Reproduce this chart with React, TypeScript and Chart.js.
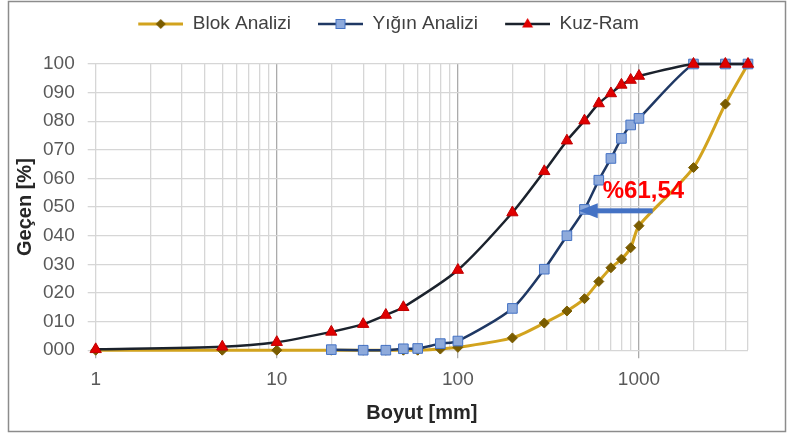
import React, { useEffect, useRef } from 'react';
import { Chart, registerables } from 'chart.js';

Chart.register(...registerables);

const SERIES_NAMES = ['Blok Analizi', 'Yığın Analizi', 'Kuz-Ram'];

const BLOK_X = [1, 5, 10, 20, 30, 40, 50, 60, 80, 100, 200, 300, 400, 500, 600, 700, 800, 900, 1000, 2000, 3000, 4000];
const BLOK_Y = [0, 0, 0, 0, 0, 0, 0, 0, 0.4, 1, 4.3, 9.5, 13.7, 18, 24, 28.8, 31.8, 35.8, 43.5, 63.8, 86, 100];

const YIGIN_X = [20, 30, 40, 50, 60, 80, 100, 200, 300, 400, 500, 600, 700, 800, 900, 1000, 2000, 3000, 4000];
const YIGIN_Y = [0.2, 0, 0, 0.5, 0.6, 2.3, 3.2, 14.6, 28.3, 40, 49.2, 59.4, 67, 74, 78.7, 81, 100, 100, 100];

const KUZ_X = [1, 5, 10, 20, 30, 40, 50, 100, 200, 300, 400, 500, 600, 700, 800, 900, 1000, 2000, 3000, 4000];
const KUZ_Y = [0.3, 1.2, 2.8, 6.4, 9.1, 12.3, 15, 28, 48.1, 62.5, 73.2, 80.2, 86.2, 89.7, 92.7, 94.4, 95.8, 100, 100, 100];

const X_MIN = 1;
const X_MAX = 4000;
const X_LABELED = [1, 10, 100, 1000];
const X_DECADES = [1, 10, 100, 1000];
const X_MULTIPLIERS = [1, 2, 3, 4, 5, 6, 7, 8, 9];
const Y_MIN = 0;
const Y_MAX = 100;
const Y_STEP = 10;

const ANNOTATION_TEXT = '%61,54';
const ARROW_TIP_X = 465;
const ARROW_TAIL_X = 1190;
const ARROW_Y = 48.7;
const LABEL_X = 1058;
const LABEL_Y = 55.4;

const FONT = "'Liberation Sans', Arial, sans-serif";
const TENSION = 0.25;

const COLORS = {
  blokLine: '#D2A31E',
  blokPoint: '#7A5C00',
  yiginLine: '#1F3864',
  yiginPoint: '#8EAADB',
  yiginPointBorder: '#4472C4',
  kuzLine: '#1B222C',
  kuzPoint: '#E00000',
  kuzPointBorder: '#C00000',
  grid: '#d6d6d6',
  gridMajor: '#ababab',
  tick: '#595959',
  title: '#262626',
  legend: '#404040',
  arrow: '#4472C4',
  label: '#FF0000',
  frame: '#8c8c8c',
};

function xGridValues(): number[] {
  const out: number[] = [];
  for (const d of X_DECADES) for (const m of X_MULTIPLIERS) if (d * m <= X_MAX) out.push(d * m);
  return out;
}

function makeSample(kind: number): HTMLCanvasElement {
  const c = document.createElement('canvas');
  c.width = 65;
  c.height = 16;
  const ctx = c.getContext('2d')!;
  const y = 8;
  const cx = 42.5;
  ctx.lineCap = 'butt';
  if (kind === 0) {
    ctx.strokeStyle = COLORS.blokLine;
    ctx.lineWidth = 3;
    ctx.beginPath(); ctx.moveTo(20, y); ctx.lineTo(65, y); ctx.stroke();
    ctx.fillStyle = COLORS.blokPoint;
    ctx.beginPath(); ctx.moveTo(cx, y - 5); ctx.lineTo(cx + 5, y); ctx.lineTo(cx, y + 5); ctx.lineTo(cx - 5, y); ctx.closePath(); ctx.fill();
  } else if (kind === 1) {
    ctx.strokeStyle = COLORS.yiginLine;
    ctx.lineWidth = 2.5;
    ctx.beginPath(); ctx.moveTo(20, y); ctx.lineTo(65, y); ctx.stroke();
    ctx.fillStyle = COLORS.yiginPoint;
    ctx.strokeStyle = COLORS.yiginPointBorder;
    ctx.lineWidth = 1;
    ctx.fillRect(cx - 4.5, y - 4.5, 9, 9);
    ctx.strokeRect(cx - 4.5, y - 4.5, 9, 9);
  } else {
    ctx.strokeStyle = COLORS.kuzLine;
    ctx.lineWidth = 2.5;
    ctx.beginPath(); ctx.moveTo(20, y); ctx.lineTo(65, y); ctx.stroke();
    ctx.fillStyle = COLORS.kuzPoint;
    ctx.beginPath(); ctx.moveTo(cx, y - 6); ctx.lineTo(cx + 5.5, y + 3.5); ctx.lineTo(cx - 5.5, y + 3.5); ctx.closePath(); ctx.fill();
  }
  return c;
}

const framePlugin = {
  id: 'frame',
  beforeDraw(chart: any) {
    const ctx = chart.ctx;
    ctx.save();
    ctx.fillStyle = '#ffffff';
    ctx.fillRect(0, 0, chart.width, chart.height);
    ctx.strokeStyle = COLORS.frame;
    ctx.lineWidth = 1.5;
    ctx.strokeRect(8.5, 1.5, 777, 430);
    ctx.restore();
  },
};

const annotationPlugin = {
  id: 'annotation61',
  afterDatasetsDraw(chart: any) {
    const ctx = chart.ctx;
    const xs = chart.scales.x;
    const ys = chart.scales.y;
    const tip = xs.getPixelForValue(ARROW_TIP_X);
    const tail = xs.getPixelForValue(ARROW_TAIL_X);
    const yy = ys.getPixelForValue(ARROW_Y);
    ctx.save();
    ctx.fillStyle = COLORS.arrow;
    const headLen = 19;
    ctx.fillRect(tip + headLen - 1, yy - 2.5, tail - tip - headLen + 1, 5);
    ctx.beginPath();
    ctx.moveTo(tip, yy);
    ctx.lineTo(tip + headLen, yy - 7.5);
    ctx.lineTo(tip + headLen, yy + 7.5);
    ctx.closePath();
    ctx.fill();
    ctx.font = `bold 24px ${FONT}`;
    ctx.fillStyle = COLORS.label;
    ctx.textAlign = 'center';
    ctx.textBaseline = 'middle';
    ctx.fillText(ANNOTATION_TEXT, xs.getPixelForValue(LABEL_X), ys.getPixelForValue(LABEL_Y));
    ctx.restore();
  },
};

function toPoints(xs: number[], ys: number[]) {
  return xs.map((x, i) => ({ x, y: ys[i] }));
}

export default function App() {
  const ref = useRef<HTMLCanvasElement | null>(null);

  useEffect(() => {
    if (!ref.current) return;
    const samples = [makeSample(0), makeSample(1), makeSample(2)];
    const gridVals = xGridValues();
    const isMajor = (v: number) => X_LABELED.includes(v);

    const chart = new Chart(ref.current, {
      type: 'line',
      data: {
        datasets: [
          {
            label: SERIES_NAMES[0],
            data: toPoints(BLOK_X, BLOK_Y),
            xAxisID: 'x',
            yAxisID: 'y',
            borderColor: COLORS.blokLine,
            borderWidth: 3,
            pointStyle: 'rectRot',
            pointRadius: 5,
            pointBackgroundColor: COLORS.blokPoint,
            pointBorderColor: COLORS.blokPoint,
            pointBorderWidth: 1,
            tension: TENSION,
            order: 3,
            clip: false,
          },
          {
            label: SERIES_NAMES[1],
            data: toPoints(YIGIN_X, YIGIN_Y),
            xAxisID: 'x',
            yAxisID: 'y',
            borderColor: COLORS.yiginLine,
            borderWidth: 2.5,
            pointStyle: 'rect',
            pointRadius: 6.8,
            pointBackgroundColor: COLORS.yiginPoint,
            pointBorderColor: COLORS.yiginPointBorder,
            pointBorderWidth: 1,
            tension: TENSION,
            order: 2,
            clip: false,
          },
          {
            label: SERIES_NAMES[2],
            data: toPoints(KUZ_X, KUZ_Y),
            xAxisID: 'x',
            yAxisID: 'y',
            borderColor: COLORS.kuzLine,
            borderWidth: 2.5,
            pointStyle: 'triangle',
            pointRadius: 6.5,
            pointBackgroundColor: COLORS.kuzPoint,
            pointBorderColor: COLORS.kuzPointBorder,
            pointBorderWidth: 1,
            tension: TENSION,
            order: 1,
            clip: false,
          },
        ] as any,
      },
      options: {
        responsive: false,
        animation: false,
        layout: { padding: { top: 7.5, left: 9, right: 41, bottom: 5 } },
        elements: { line: { capBezierPoints: true } },
        plugins: {
          tooltip: { enabled: false },
          legend: {
            display: true,
            position: 'top',
            labels: {
              usePointStyle: true,
              pointStyleWidth: 65,
              padding: 7,
              color: COLORS.legend,
              font: { family: FONT, size: 19 },
              generateLabels: () =>
                SERIES_NAMES.map((name, i) => ({
                  text: name,
                  pointStyle: samples[i],
                  fillStyle: 'transparent',
                  strokeStyle: 'transparent',
                  lineWidth: 0,
                  hidden: false,
                  datasetIndex: i,
                  fontColor: COLORS.legend,
                })) as any,
            },
          },
        },
        scales: {
          x: {
            type: 'logarithmic',
            position: 'bottom',
            min: X_MIN,
            max: X_MAX,
            afterBuildTicks: (s: any) => {
              s.ticks = gridVals.map((v) => ({ value: v, major: false }));
            },
            ticks: {
              autoSkip: false,
              maxRotation: 0,
              minRotation: 0,
              padding: 10,
              color: COLORS.tick,
              font: { family: FONT, size: 19 },
              callback: (v: any) => (isMajor(Number(v)) ? String(v) : ''),
            },
            grid: {
              color: (c: any) => (c.tick && isMajor(c.tick.value) && c.tick.value > 1 ? COLORS.gridMajor : COLORS.grid),
              tickColor: (c: any) => (c.tick && isMajor(c.tick.value) ? COLORS.gridMajor : 'rgba(0,0,0,0)'),
              lineWidth: 1.3,
              tickLength: 8,
            },
            border: { display: false },
            title: {
              display: true,
              text: 'Boyut [mm]',
              color: COLORS.title,
              font: { family: FONT, size: 20, weight: 'bold' },
              padding: { top: 0, bottom: 4 },
            },
          },
          y: {
            type: 'linear',
            position: 'left',
            min: Y_MIN,
            max: Y_MAX,
            ticks: {
              stepSize: Y_STEP,
              padding: 13,
              color: COLORS.tick,
              font: { family: FONT, size: 19 },
              callback: (v: any) => String(v).padStart(3, '0'),
            },
            grid: {
              color: COLORS.grid,
              tickColor: COLORS.grid,
              lineWidth: 1.3,
              tickLength: 8,
            },
            border: { display: false },
            title: {
              display: true,
              text: 'Geçen [%]',
              color: COLORS.title,
              font: { family: FONT, size: 20, weight: 'bold' },
              padding: { top: 4, bottom: -7 },
            },
          },
          xTop: {
            type: 'linear',
            position: 'top',
            display: true,
            grid: { display: false, drawTicks: false },
            border: { display: false },
            ticks: { display: false },
            afterFit: (s: any) => { s.height = 20.5; },
          },
        },
      } as any,
      plugins: [framePlugin, annotationPlugin],
    });
    return () => chart.destroy();
  }, []);

  return (
    <div style={{ position: 'absolute', left: 0, top: 0, width: 789, height: 434 }}>
      <canvas ref={ref} width={789} height={434} style={{ display: 'block', width: 789, height: 434 }} />
    </div>
  );
}
